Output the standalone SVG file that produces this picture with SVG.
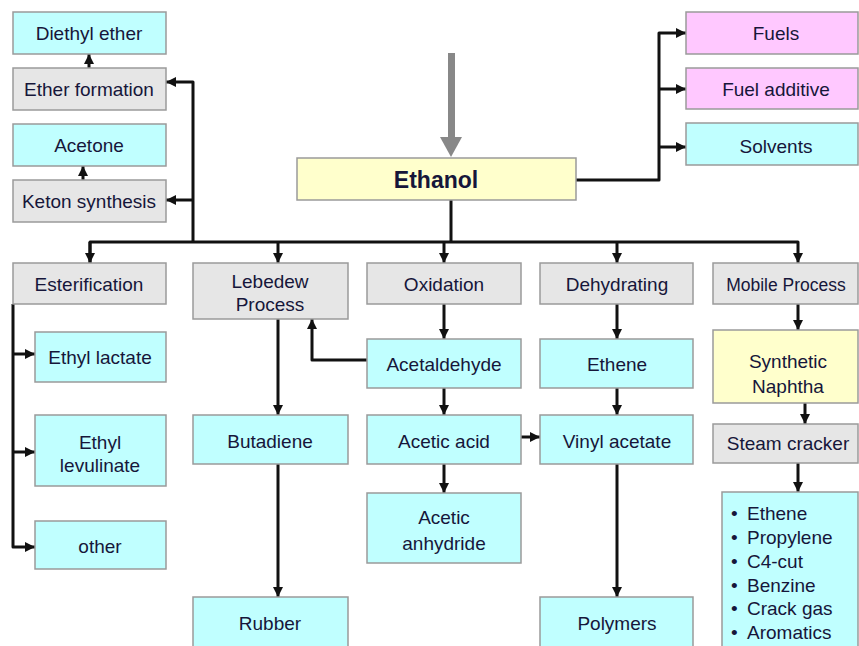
<svg xmlns="http://www.w3.org/2000/svg" width="859" height="646" viewBox="0 0 859 646">
<defs>
<marker id="ah" markerUnits="userSpaceOnUse" markerWidth="12" markerHeight="12" refX="10" refY="5" orient="auto">
<path d="M0,0 L10,5 L0,10 Z" fill="#111"/>
</marker>
<style>
rect{stroke:#9a9a9a;stroke-width:1.5}
.c{fill:#c0ffff}.g{fill:#e6e6e6}.y{fill:#ffffcc}.p{fill:#ffc8ff}
text{font-family:"Liberation Sans",Arial,sans-serif;font-size:19px;fill:#16163a;text-anchor:middle}
.b{font-weight:bold;font-size:23px}
.l{text-anchor:start}
#conn path{fill:none;stroke:#111;stroke-width:3;stroke-linejoin:round}
</style>
</defs>
<rect width="859" height="646" fill="#fff" style="stroke:none"/>
<g id="feed">
<rect x="448" y="53" width="7" height="86" fill="#888" style="stroke:none"/>
<polygon points="440,137 462,137 451,157" fill="#888"/>
</g>
<g id="conn">
<path d="M451,200 V242"/>
<path d="M90,263 V242 H798 V263" marker-end="url(#ah)"/>
<path d="M90,242 V263" marker-end="url(#ah)"/>
<path d="M278,242 V263" marker-end="url(#ah)"/>
<path d="M444,242 V263" marker-end="url(#ah)"/>
<path d="M617,242 V263" marker-end="url(#ah)"/>
<path d="M193,242 V82 H166" marker-end="url(#ah)"/>
<path d="M193,200 H166" marker-end="url(#ah)"/>
<path d="M89,68 V54" marker-end="url(#ah)"/>
<path d="M83,180 V166" marker-end="url(#ah)"/>
<path d="M576,180 H659 V33 H686" marker-end="url(#ah)"/>
<path d="M659,89 H686" marker-end="url(#ah)"/>
<path d="M659,147 H686" marker-end="url(#ah)"/>
<path d="M13,304 V547 H35" marker-end="url(#ah)"/>
<path d="M13,354 H35" marker-end="url(#ah)"/>
<path d="M13,452 H35" marker-end="url(#ah)"/>
<path d="M278,319 V415" marker-end="url(#ah)"/>
<path d="M278,464 V597" marker-end="url(#ah)"/>
<path d="M367,360 H312 V319" marker-end="url(#ah)"/>
<path d="M444,304 V339" marker-end="url(#ah)"/>
<path d="M444,388 V415" marker-end="url(#ah)"/>
<path d="M444,464 V493" marker-end="url(#ah)"/>
<path d="M521,437 H540" marker-end="url(#ah)"/>
<path d="M617,304 V339" marker-end="url(#ah)"/>
<path d="M617,388 V415" marker-end="url(#ah)"/>
<path d="M617,464 V597" marker-end="url(#ah)"/>
<path d="M798,304 V330" marker-end="url(#ah)"/>
<path d="M805,403 V424" marker-end="url(#ah)"/>
<path d="M798,463 V492" marker-end="url(#ah)"/>
</g>
<g id="ethanol"><rect class="y" x="297" y="158" width="279" height="42"/><text class="b" x="436" y="188">Ethanol</text></g>
<g id="diethyl"><rect class="c" x="13" y="12" width="153" height="42"/><text x="89" y="40">Diethyl ether</text></g>
<g id="etherform"><rect class="g" x="13" y="68" width="153" height="42"/><text x="89" y="96">Ether formation</text></g>
<g id="acetone"><rect class="c" x="13" y="124" width="153" height="42"/><text x="89" y="152">Acetone</text></g>
<g id="keton"><rect class="g" x="13" y="180" width="153" height="42"/><text x="89" y="208">Keton synthesis</text></g>
<g id="fuels"><rect class="p" x="686" y="12" width="172" height="42"/><text x="776" y="40">Fuels</text></g>
<g id="fueladd"><rect class="p" x="686" y="68" width="172" height="41"/><text x="776" y="96">Fuel additive</text></g>
<g id="solvents"><rect class="c" x="686" y="123" width="172" height="42"/><text x="776" y="153">Solvents</text></g>
<g id="ester"><rect class="g" x="13" y="263" width="153" height="41"/><text x="89" y="291">Esterification</text></g>
<g id="lebedew"><rect class="g" x="193" y="263" width="155" height="56"/><text x="270" y="288">Lebedew</text><text x="270" y="311">Process</text></g>
<g id="oxidation"><rect class="g" x="367" y="263" width="154" height="41"/><text x="444" y="291">Oxidation</text></g>
<g id="dehyd"><rect class="g" x="540" y="263" width="153" height="41"/><text x="617" y="291">Dehydrating</text></g>
<g id="mobile"><rect class="g" x="713" y="263" width="145" height="41"/><text x="786" y="291" style="font-size:17.5px">Mobile Process</text></g>
<g id="ethyllactate"><rect class="c" x="35" y="332" width="131" height="50"/><text x="100" y="364">Ethyl lactate</text></g>
<g id="ethyllev"><rect class="c" x="35" y="415" width="131" height="71"/><text x="100" y="449">Ethyl</text><text x="100" y="472">levulinate</text></g>
<g id="other"><rect class="c" x="35" y="521" width="131" height="48"/><text x="100" y="553">other</text></g>
<g id="acetaldehyde"><rect class="c" x="367" y="339" width="154" height="49"/><text x="444" y="371">Acetaldehyde</text></g>
<g id="ethene"><rect class="c" x="540" y="339" width="153" height="49"/><text x="617" y="371">Ethene</text></g>
<g id="naphtha"><rect class="y" x="713" y="330" width="145" height="73"/><text x="788" y="368">Synthetic</text><text x="788" y="393">Naphtha</text></g>
<g id="steam"><rect class="g" x="713" y="424" width="145" height="39"/><text x="788" y="450">Steam cracker</text></g>
<g id="butadiene"><rect class="c" x="193" y="415" width="155" height="49"/><text x="270" y="448">Butadiene</text></g>
<g id="aceticacid"><rect class="c" x="367" y="415" width="154" height="49"/><text x="444" y="448">Acetic acid</text></g>
<g id="vinyl"><rect class="c" x="540" y="415" width="153" height="49"/><text x="617" y="448">Vinyl acetate</text></g>
<g id="anhydride"><rect class="c" x="367" y="493" width="154" height="70"/><text x="444" y="524">Acetic</text><text x="444" y="550">anhydride</text></g>
<g id="rubber"><rect class="c" x="193" y="597" width="155" height="55"/><text x="270" y="630">Rubber</text></g>
<g id="polymers"><rect class="c" x="540" y="597" width="153" height="55"/><text x="617" y="630">Polymers</text></g>
<g id="products"><rect class="c" x="722" y="492" width="136" height="160"/>
<text class="l" x="731" y="520">•</text><text class="l" x="747" y="520">Ethene</text>
<text class="l" x="731" y="544">•</text><text class="l" x="747" y="544">Propylene</text>
<text class="l" x="731" y="568">•</text><text class="l" x="747" y="568">C4-cut</text>
<text class="l" x="731" y="592">•</text><text class="l" x="747" y="592">Benzine</text>
<text class="l" x="731" y="615">•</text><text class="l" x="747" y="615">Crack gas</text>
<text class="l" x="731" y="639">•</text><text class="l" x="747" y="639">Aromatics</text>
</g>
</svg>
